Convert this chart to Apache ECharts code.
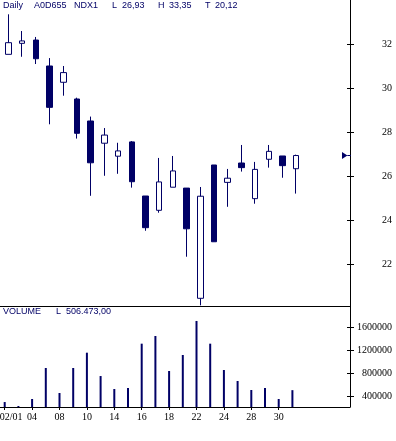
<!DOCTYPE html>
<html><head><meta charset="utf-8">
<script src="https://cdn.jsdelivr.net/npm/echarts@6/dist/echarts.min.js"></script>
<style>html,body{margin:0;padding:0;background:#fff}#c{width:396px;height:441px}</style>
</head><body><div id="c"></div>
<script>
const categories = ['02/01','03','04','07','08','09','10','11','14','15','16','17','18','21','22','23','24','25','28','29','30','31'];
const openPrices  = [31.53,32.03,32.18,31.00,30.26,29.50,28.50,27.49,26.90,27.55,25.09,24.44,25.49,25.45,20.44,26.50,25.71,26.59,24.97,26.76,26.91,26.33];
const closePrices = [32.06,32.14,31.33,29.12,30.70,27.94,26.60,27.86,27.14,25.74,23.65,25.73,26.23,23.60,25.08,23.01,25.90,26.38,26.30,27.12,26.47,26.93];
const lowPrices   = [31.53,31.42,31.09,28.35,29.65,27.70,25.10,26.01,26.10,25.47,23.51,24.33,25.49,22.33,20.12,23.01,24.60,26.20,24.74,26.38,25.92,25.20];
const highPrices  = [33.35,32.59,32.32,31.36,31.00,29.56,28.70,28.18,27.51,27.59,25.09,26.82,26.91,25.45,25.50,26.50,26.32,27.41,26.64,27.41,26.91,26.97];
const volumes     = [301000,232000,353000,890000,457000,890000,1155000,751000,526000,544000,1311000,1444000,838000,1115000,1704000,1311000,855000,665000,509000,544000,353000,506473];
const priceTicks  = [22,24,26,28,30,32];
const volumeTicks = [400000,800000,1200000,1600000];
const dateTickIdx = [0,2,4,6,8,10,12,14,16,18,20];

const NAVY = '#000066';
const fmtDec = v => v.toFixed(2).replace('.', ',');
const fmtVol = v => String(Math.round(v)).replace(/\B(?=(\d{3})+(?!\d))/g, '.') + ',00';
const lastClose = closePrices[closePrices.length - 1];
const hi = Math.max(...highPrices), lo = Math.min(...lowPrices);
const lastVol = volumes[volumes.length - 1];

const candleData = categories.map((_, i) => [i, openPrices[i], closePrices[i], lowPrices[i], highPrices[i]]);
const volData = categories.map((_, i) => [i, volumes[i]]);

const priceXMin = -0.62, priceXMax = 24.927;
const volXMin = -0.343, volXMax = 25.204;

const hdr = (text, left, top) => ({text, left, top, padding: 0, textStyle: {fontFamily: 'Liberation Sans', fontSize: 9, fontWeight: 'normal', color: NAVY}});

const axisFont = {fontFamily: 'Liberation Serif', fontSize: 10, color: '#000'};
const blackLine = {lineStyle: {color: '#000', width: 1}};

const chart = echarts.init(document.getElementById('c'), null, {renderer: 'canvas'});
chart.setOption({
  animation: false,
  backgroundColor: '#fff',
  title: [
    hdr('Daily', 3, 1), hdr('A0D655', 34, 1), hdr('NDX1', 74, 1),
    hdr('L', 112, 1), hdr(fmtDec(lastClose), 122, 1),
    hdr('H', 158, 1), hdr(fmtDec(hi), 169, 1),
    hdr('T', 205, 1), hdr(fmtDec(lo), 215, 1),
    hdr('VOLUME', 3, 307), hdr('L', 56, 307), hdr(fmtVol(lastVol), 66, 307)
  ],
  grid: [
    {left: 0, top: 0, width: 350, height: 306, containLabel: false, outerBoundsMode: 'none'},
    {left: 0, top: 306, width: 350, height: 101, containLabel: false, outerBoundsMode: 'none'}
  ],
  xAxis: [
    {type: 'value', gridIndex: 0, min: priceXMin, max: priceXMax,
     axisLine: {show: true, onZero: false, ...blackLine}, axisTick: {show: false}, axisLabel: {show: false}, splitLine: {show: false}},
    {type: 'value', gridIndex: 1, min: volXMin, max: volXMax,
     axisLine: {show: true, onZero: false, ...blackLine},
     axisTick: {show: true, customValues: dateTickIdx, length: 3, ...blackLine},
     axisLabel: {show: true, customValues: dateTickIdx, margin: 5, ...axisFont,
       formatter: v => { const i = Math.round(v); return i === 0 ? '{f|' + categories[i] + '}' : categories[i]; },
       rich: {f: {fontFamily: 'Liberation Serif', fontSize: 10, color: '#000', padding: [0, 0, 0, 13]}}},
     splitLine: {show: false}}
  ],
  yAxis: [
    {type: 'value', gridIndex: 0, position: 'right', min: 20.09, max: 34,
     axisLine: {show: true, onZero: false, ...blackLine},
     axisTick: {show: true, customValues: priceTicks, length: 4, ...blackLine},
     axisLabel: {show: true, customValues: priceTicks, margin: 42, align: 'right', ...axisFont, formatter: v => String(v)},
     splitLine: {show: false}},
    {type: 'value', gridIndex: 0, position: 'right', min: 20.09, max: 34,
     axisLine: {show: false, onZero: false},
     axisTick: {show: true, inside: true, customValues: priceTicks, length: 3, ...blackLine},
     axisLabel: {show: false}, splitLine: {show: false}},
    {type: 'value', gridIndex: 1, position: 'right', min: 215000, max: 1963000,
     axisLine: {show: true, onZero: false, ...blackLine},
     axisTick: {show: true, customValues: volumeTicks, length: 4, ...blackLine},
     axisLabel: {show: true, customValues: volumeTicks, margin: 42, align: 'right', ...axisFont, formatter: v => String(v)},
     splitLine: {show: false}},
    {type: 'value', gridIndex: 1, position: 'right', min: 215000, max: 1963000,
     axisLine: {show: false, onZero: false},
     axisTick: {show: true, inside: true, customValues: volumeTicks, length: 3, ...blackLine},
     axisLabel: {show: false}, splitLine: {show: false}}
  ],
  series: [
    {type: 'candlestick', xAxisIndex: 0, yAxisIndex: 0,
     dimensions: ['x', 'open', 'close', 'lowest', 'highest'],
     encode: {x: 'x', y: ['open', 'close', 'lowest', 'highest']},
     data: candleData, barWidth: 6,
     itemStyle: {color: '#fff', color0: NAVY, borderColor: NAVY, borderColor0: NAVY, borderWidth: 1},
     markPoint: {
       symbol: 'path://M0,0L6,4L0,8Z M6,3.4L10,3.4L10,4.6L6,4.6Z', symbolSize: [9, 7],
       label: {show: false}, itemStyle: {color: NAVY},
       data: [{coord: [priceXMax - 3.5 / 13.7, lastClose]}]
     }},
    {type: 'bar', xAxisIndex: 1, yAxisIndex: 2, data: volData, barWidth: 2,
     itemStyle: {color: NAVY}}
  ]
});
</script></body></html>
